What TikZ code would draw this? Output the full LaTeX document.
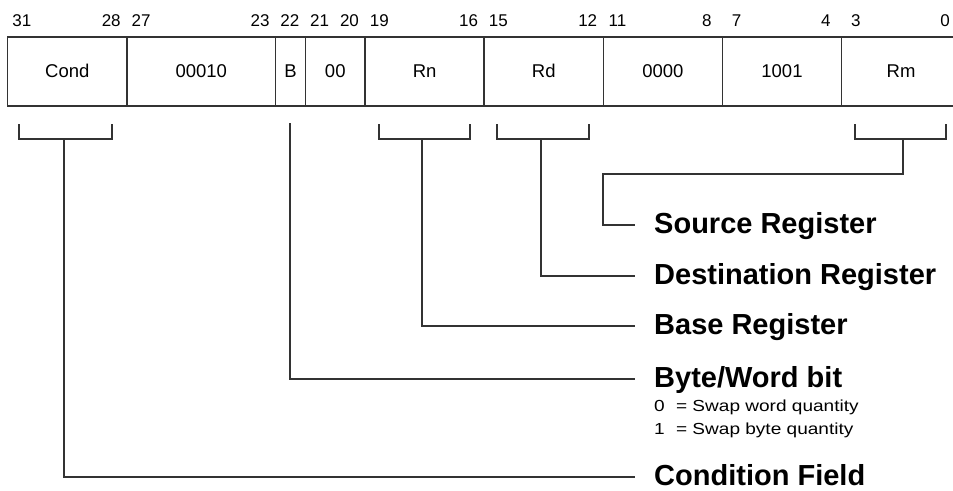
\documentclass[tikz,border=0pt]{standalone}
\usepackage{fontspec}
\setmainfont{Liberation Sans}
\newfontfamily\subfont[FakeStretch=1.19]{Liberation Sans}
\begin{document}
\begin{tikzpicture}[x=1pt,y=-1pt,
  ln/.style={draw=black!80, line width=1.4pt},
  field/.style={ln, minimum height=69pt, inner sep=0pt, text height=12pt, text depth=0pt, font=\fontsize{18.5}{20}\selectfont, anchor=west},
  bitno/.style={font=\fontsize{17}{19}\selectfont, inner sep=0pt, anchor=base},
  lbl/.style={font=\fontsize{29}{31}\selectfont\bfseries, anchor=west, inner xsep=19pt, inner ysep=0pt, text height=16pt, text depth=0pt},
  note/.style={font=\subfont\fontsize{16}{18}\selectfont, inner sep=0pt, anchor=base west}]
\useasboundingbox (0,0) rectangle (953,490);
\clip (0,0) rectangle (953,490);
% fields
\node[field, minimum width=119.12pt] (cond) at (7,71.5) {Cond};
\node[field, minimum width=148.9pt] (opa) at (126.12,71.5) {00010};
\node[field, minimum width=29.78pt] (bbit) at (275.02,71.5) {B};
\node[field, minimum width=59.56pt] (opb) at (304.8,71.5) {00};
\node[field, minimum width=119.12pt] (rn) at (364.36,71.5) {Rn};
\node[field, minimum width=119.12pt] (rd) at (483.48,71.5) {Rd};
\node[field, minimum width=119.12pt] (opc) at (602.6,71.5) {0000};
\node[field, minimum width=119.12pt] (opd) at (721.72,71.5) {1001};
\node[field, minimum width=119.12pt] (rm) at (840.84,71.5) {Rm};
% bit numbers
\node[bitno] (b31) at (21.89,26) {31};
\node[bitno] (b28) at (111.23,26) {28};
\node[bitno] (b27) at (141.01,26) {27};
\node[bitno] (b23) at (260.13,26) {23};
\node[bitno] (b22) at (289.91,26) {22};
\node[bitno] (b21) at (319.69,26) {21};
\node[bitno] (b20) at (349.47,26) {20};
\node[bitno] (b19) at (379.25,26) {19};
\node[bitno] (b16) at (468.59,26) {16};
\node[bitno] (b15) at (498.37,26) {15};
\node[bitno] (b12) at (587.71,26) {12};
\node[bitno] (b11) at (617.49,26) {11};
\node[bitno] (b8) at (706.83,26) {8};
\node[bitno] (b7) at (736.61,26) {7};
\node[bitno] (b4) at (825.95,26) {4};
\node[bitno] (b3) at (855.73,26) {3};
\node[bitno] (b0) at (945.07,26) {0};
% brackets
\draw[ln] (19,124) |- (112,139) -- (112,124);
\draw[ln] (379,124) |- (470,139) -- (470,124);
\draw[ln] (497,124) |- (589,139) -- (589,124);
\draw[ln] (855,124) |- (946,139) -- (946,124);
\coordinate (cb) at (64,139);
\coordinate (bt) at (290,123);
\coordinate (rnb) at (422,139);
\coordinate (rdb) at (541,139);
\coordinate (rmb) at (903,139);
\coordinate (rmturn) at (603,174);
% labels
\node[lbl] (src) at (635,225) {Source Register};
\node[lbl] (dst) at (635,276) {Destination Register};
\node[lbl] (base) at (635,326) {Base Register};
\node[lbl] (bw) at (635,379) {Byte/Word bit};
\node[lbl] (cf) at (635,477) {Condition Field};
\node[note] (n0) at (654,411) {0\hspace{6pt} = Swap word quantity};
\node[note] (n1) at (654,434) {1\hspace{6pt} = Swap byte quantity};
% connectors
\draw[ln] (rmb) |- (rmturn) |- (src.west);
\draw[ln] (rdb) |- (dst.west);
\draw[ln] (rnb) |- (base.west);
\draw[ln] (bt) |- (bw.west);
\draw[ln] (cb) |- (cf.west);
\end{tikzpicture}
\end{document}
